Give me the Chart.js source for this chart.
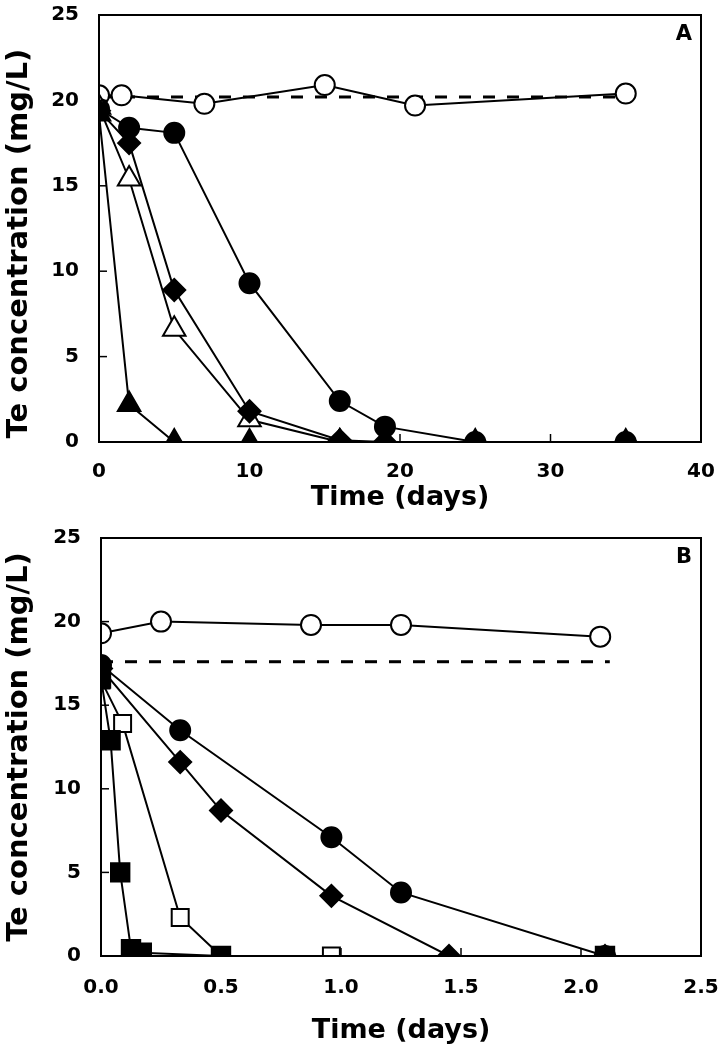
<!DOCTYPE html>
<html>
<head>
<meta charset="utf-8">
<script src="https://cdn.jsdelivr.net/npm/chart.js@4.4.1/dist/chart.umd.min.js"></script>
<style>
  html, body { margin: 0; padding: 0; background: #fff; }
  #wrapA { position: absolute; left: 0; top: 0; width: 721px; height: 515px; }
  #wrapB { position: absolute; left: 0; top: 515px; width: 721px; height: 535px; }
</style>
</head>
<body>
<div id="wrapA"><canvas id="grafA"></canvas></div>
<div id="wrapB"><canvas id="grafB"></canvas></div>
<script>
// Panel A data (time in days, Te in mg/L)
const kontrollA_x = [0, 1.5, 7, 15, 21, 35];
const kontrollA_y = [20.3, 20.3, 19.8, 20.9, 19.7, 20.4];
const stiplaA_x = [0, 35];
const stiplaA_y = [20.2, 20.2];
const sirkelA_x = [0, 2, 5, 10, 16, 19, 25, 35];
const sirkelA_y = [19.5, 18.4, 18.1, 9.3, 2.4, 0.9, 0, 0];
const diamantA_x = [0, 2, 5, 10, 16, 19, 25, 35];
const diamantA_y = [19.4, 17.5, 8.9, 1.8, 0.1, 0, 0, 0];
const trekantApenA_x = [0, 2, 5, 10, 16];
const trekantApenA_y = [19.6, 15.4, 6.6, 1.3, 0];
const trekantA_x = [0, 2, 5, 10, 16, 19, 25, 35];
const trekantA_y = [19.2, 2.2, 0, 0, 0, 0, 0, 0];
const xTicksA = [0, 10, 20, 30, 40];
const yTicks = [0, 5, 10, 15, 20, 25];

// Panel B data
const kontrollB_x = [0, 0.25, 0.875, 1.25, 2.08];
const kontrollB_y = [19.3, 20.0, 19.8, 19.8, 19.1];
const stiplaB_x = [0, 2.12];
const stiplaB_y = [17.6, 17.6];
const sirkelB_x = [0, 0.33, 0.96, 1.25, 2.1];
const sirkelB_y = [17.4, 13.5, 7.1, 3.8, 0];
const diamantB_x = [0, 0.33, 0.5, 0.96, 1.45, 2.1];
const diamantB_y = [17.2, 11.6, 8.7, 3.6, 0, 0];
const firkantApenB_x = [0, 0.09, 0.33, 0.5, 0.96, 2.1];
const firkantApenB_y = [16.5, 13.9, 2.3, 0, 0, 0];
const firkantB_x = [0, 0.04, 0.08, 0.125, 0.17, 0.5, 2.1];
const firkantB_y = [16.6, 12.9, 5.0, 0.4, 0.2, 0, 0];
const xTicksB = [0, 0.5, 1.0, 1.5, 2.0, 2.5];

const font = "'DejaVu Sans', Arial, sans-serif";

function punkter(xs, ys) {
  return xs.map((x, i) => ({ x: x, y: ys[i] }));
}

function serie(xs, ys, stil, r, fylt) {
  return {
    data: punkter(xs, ys),
    borderColor: '#000',
    borderWidth: 2,
    pointStyle: stil,
    pointRadius: r,
    pointHoverRadius: r,
    pointBackgroundColor: fylt ? '#000' : '#fff',
    pointBorderColor: '#000',
    pointBorderWidth: 2,
    tension: 0
  };
}

function stipla(xs, ys) {
  return {
    data: punkter(xs, ys),
    borderColor: '#000',
    borderWidth: 3,
    borderDash: [12, 12],
    pointRadius: 0,
    tension: 0
  };
}

// Ramme rundt plottet, inntrukne tikkmerker og panelbokstav
const rammePlugin = {
  id: 'ramme',
  afterDraw(chart, args, opts) {
    const ctx = chart.ctx;
    const a = chart.chartArea;
    ctx.save();
    ctx.strokeStyle = '#000';
    ctx.lineWidth = 2;
    ctx.strokeRect(a.left, a.top, a.right - a.left, a.bottom - a.top);
    ctx.lineWidth = 1.5;
    chart.scales.y.ticks.forEach(t => {
      const py = chart.scales.y.getPixelForValue(t.value);
      ctx.beginPath();
      ctx.moveTo(a.left, py);
      ctx.lineTo(a.left + 8, py);
      ctx.stroke();
    });
    chart.scales.x.ticks.forEach(t => {
      const px = chart.scales.x.getPixelForValue(t.value);
      ctx.beginPath();
      ctx.moveTo(px, a.bottom);
      ctx.lineTo(px, a.bottom - 8);
      ctx.stroke();
    });
    ctx.fillStyle = '#000';
    ctx.font = 'bold 21px ' + font;
    ctx.textAlign = 'right';
    ctx.textBaseline = 'middle';
    ctx.fillText(opts.bokstav, a.right - 9, a.top + 20);
    ctx.restore();
  }
};

function nullPadding(s) {
  s.paddingTop = 0;
  s.paddingBottom = 0;
  s.paddingLeft = 0;
  s.paddingRight = 0;
}

function lagGraf(id, datasets, xMax, xTicks, oppe, yBredde, xHoyde, tickPad, titPad, yTittel, bokstav) {
  const ctx = document.getElementById(id).getContext('2d');
  return new Chart(ctx, {
    type: 'line',
    data: { datasets: datasets },
    plugins: [rammePlugin],
    options: {
      responsive: true,
      maintainAspectRatio: false,
      animation: false,
      layout: { padding: { top: oppe, right: 20, left: 0, bottom: 0 } },
      plugins: {
        legend: { display: false },
        tooltip: { enabled: false },
        ramme: { bokstav: bokstav }
      },
      scales: {
        x: {
          type: 'linear',
          min: 0,
          max: xMax,
          afterBuildTicks: s => { s.ticks = xTicks.map(v => ({ value: v })); },
          afterFit: s => { s.height = xHoyde; nullPadding(s); },
          grid: { display: false, drawTicks: false },
          border: { display: true, color: '#000', width: 2 },
          ticks: {
            color: '#000',
            padding: tickPad,
            font: { family: font, size: 20, weight: 'bold' },
            callback: v => xMax < 5 ? v.toFixed(1) : String(v)
          },
          title: {
            display: true,
            text: 'Time (days)',
            color: '#000',
            font: { family: font, size: 27, weight: 'bold' },
            padding: { top: 4, bottom: titPad }
          }
        },
        y: {
          min: 0,
          max: 25,
          afterBuildTicks: s => { s.ticks = yTicks.map(v => ({ value: v })); },
          afterFit: s => { s.width = yBredde; nullPadding(s); },
          grid: { display: false, drawTicks: false },
          border: { display: true, color: '#000', width: 2 },
          ticks: {
            color: '#000',
            padding: 20,
            font: { family: font, size: 20, weight: 'bold' }
          },
          title: {
            display: true,
            text: yTittel,
            color: '#000',
            font: { family: font, size: 29, weight: 'bold' },
            padding: { top: 2, bottom: 0 }
          }
        }
      }
    }
  });
}

window.onload = function() {
  lagGraf('grafA', [
    serie(trekantA_x, trekantA_y, 'triangle', 13, true),
    serie(diamantA_x, diamantA_y, 'rectRot', 11, true),
    serie(trekantApenA_x, trekantApenA_y, 'triangle', 13, false),
    serie(sirkelA_x, sirkelA_y, 'circle', 10, true),
    serie(kontrollA_x, kontrollA_y, 'circle', 10, false),
    stipla(stiplaA_x, stiplaA_y)
  ], 40, xTicksA, 15, 99, 73, 18, 1, 'Te concentration (mg/L)   ', 'A');

  lagGraf('grafB', [
    serie(firkantB_x, firkantB_y, 'rect', 13, true),
    serie(firkantApenB_x, firkantApenB_y, 'rect', 12, false),
    serie(diamantB_x, diamantB_y, 'rectRot', 11, true),
    serie(sirkelB_x, sirkelB_y, 'circle', 10, true),
    serie(kontrollB_x, kontrollB_y, 'circle', 10, false),
    stipla(stiplaB_x, stiplaB_y)
  ], 2.5, xTicksB, 23, 101, 94, 20, 3, 'Te concentration (mg/L)', 'B');
};
</script>
</body>
</html>
